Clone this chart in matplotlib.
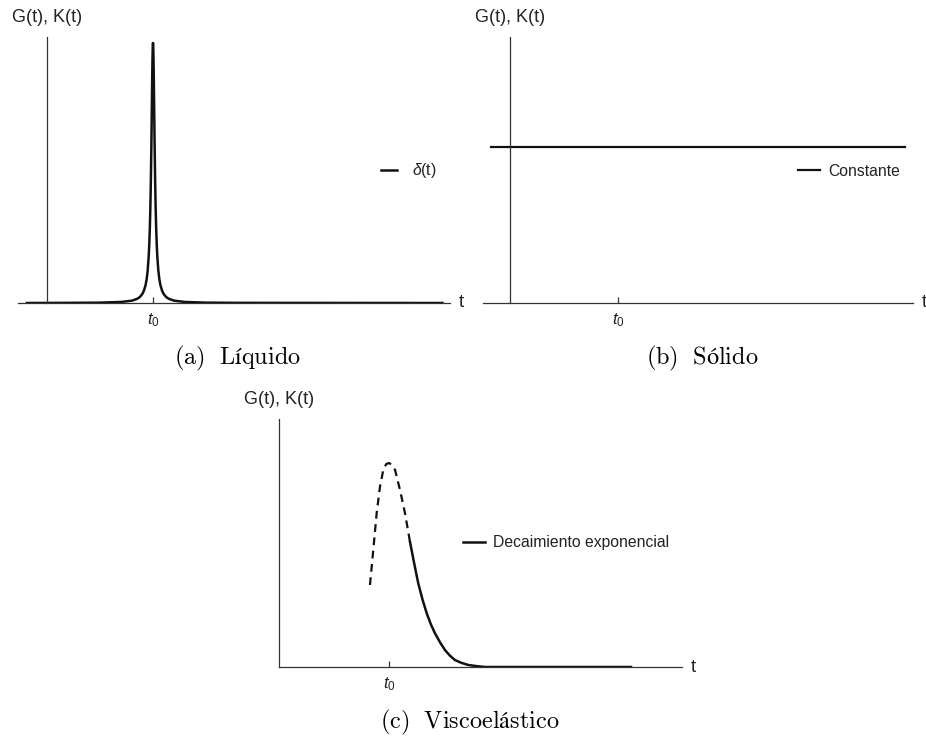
import matplotlib
matplotlib.use("Agg")
import matplotlib.pyplot as plt

plt.rcParams['font.family'] = ['Liberation Sans', 'DejaVu Sans']
plt.rcParams['mathtext.fontset'] = 'custom'
plt.rcParams['mathtext.rm'] = 'Liberation Sans'
plt.rcParams['mathtext.it'] = 'Liberation Sans:italic'

W, H = 926, 739
AXIS_C = '#333333'
LINE_C = '#111111'
TEXT_C = '#222222'

# (a) liquid: narrow peak at t0
t0 = 1.0
liq_t = [-0.19, 0.2, 0.5, 0.7, 0.8, 0.85, 0.875, 0.9, 0.915, 0.93, 0.94, 0.95, 0.96, 0.965,
         0.97, 0.975, 0.98, 0.985, 0.99, 0.9925, 0.995, 0.9975, 1.0,
         1.0025, 1.005, 1.0075, 1.01, 1.015, 1.02, 1.025, 1.03, 1.035, 1.04, 1.05, 1.06,
         1.07, 1.085, 1.1, 1.125, 1.15, 1.2, 1.3, 1.5, 1.8, 3.73]
liq_g = [0.0, 0.0006, 0.0014, 0.004, 0.0089, 0.016, 0.0226, 0.035, 0.048, 0.069, 0.091, 0.126,
         0.184, 0.228, 0.286, 0.366, 0.474, 0.616, 0.783, 0.865, 0.935, 0.983, 1.0,
         0.983, 0.935, 0.865, 0.783, 0.616, 0.474, 0.366, 0.286, 0.228, 0.184, 0.126, 0.091,
         0.069, 0.048, 0.035, 0.0226, 0.016, 0.0089, 0.004, 0.0014, 0.0006, 0.0]

# (b) solid: constant modulus
sol_t = [-0.176, 3.66]
sol_g = [0.6, 0.6]

# (c) viscoelastic: rise (dashed) then exponential decay (solid)
vis_rise_t = [0.827, 0.857, 0.888, 0.918, 0.948, 0.975, 1.0, 1.028, 1.055, 1.1, 1.145, 1.191]
vis_rise_g = [0.402, 0.574, 0.755, 0.884, 0.966, 0.995, 1.0, 0.99, 0.966, 0.868, 0.755, 0.613]
vis_dec_t = [1.191, 1.23, 1.266, 1.305, 1.343, 1.38, 1.418, 1.465, 1.509, 1.555, 1.6, 1.66,
             1.72, 1.8, 1.873, 3.2]
vis_dec_g = [0.613, 0.505, 0.41, 0.33, 0.263, 0.21, 0.165, 0.12, 0.083, 0.055, 0.034, 0.02,
             0.01, 0.004, 0.0, 0.0]

fig = plt.figure(figsize=(W / 100, H / 100), dpi=100)


def fx(x):
    return x / W


def fy(y):
    return 1 - y / H


def make_axes(left, right, top, bottom, xlim, ylim):
    ax = fig.add_axes([fx(left), fy(bottom), fx(right - left), (bottom - top) / H])
    ax.set_xlim(*xlim)
    ax.set_ylim(*ylim)
    ax.patch.set_visible(False)
    for s in ('top', 'right'):
        ax.spines[s].set_visible(False)
    for s in ('left', 'bottom'):
        ax.spines[s].set_color(AXIS_C)
        ax.spines[s].set_linewidth(0.9)
    ax.spines['left'].set_position(('data', 0))
    ax.set_yticks([])
    ax.set_xticks([t0])
    ax.set_xticklabels([])
    ax.tick_params(axis='x', direction='in', length=4, width=0.9, color=AXIS_C)
    ax.annotate('$t_0$', xy=(t0, ylim[0]), xytext=(0, -12.5), textcoords='offset points',
                ha='center', va='center', fontsize=12, color=TEXT_C)
    return ax


def decorate(yaxis_px, top, right, bottom, caption, cap_x, cap_y):
    fig.text(fx(yaxis_px), fy(top - 20), 'G(t), K(t)', ha='center', va='center',
             fontsize=13, color=TEXT_C)
    fig.text(fx(right + 11), fy(bottom), 't', ha='center', va='center',
             fontsize=13.5, color=TEXT_C)
    fig.text(fx(cap_x), fy(cap_y), caption, ha='center', va='center',
             fontsize=17.5, color='black', math_fontfamily='cm')


def legend(ax, x, y, hl, pad):
    ax.legend(loc='center left', bbox_to_anchor=(fx(x), fy(y)), bbox_transform=fig.transFigure,
              frameon=False, borderpad=0, borderaxespad=0, handlelength=hl,
              handletextpad=pad, fontsize=11.3, labelcolor=TEXT_C)


# (a)
ax1 = make_axes(18, 450, 37, 303, (-29 / 106, 403 / 106), (0, 1.023))
ax1.plot(liq_t, liq_g, color=LINE_C, lw=1.8, label=r'$\delta$(t)')
legend(ax1, 381, 171, 1.0, 1.0)
decorate(47, 37, 450, 303, r'$\mathrm{(a)\ \ Líquido}$', 238, 358)

# (b)
ax2 = make_axes(483, 913, 37, 303, (-27 / 108, 403 / 108), (0, 1.023))
ax2.plot(sol_t, sol_g, color=LINE_C, lw=1.6, label='Constante')
legend(ax2, 798, 171, 1.4, 0.55)
decorate(510, 37, 913, 303, r'$\mathrm{(b)\ \ Sólido}$', 702, 358)

# (c)
ax3 = make_axes(279, 682, 419, 667, (0, 403 / 110), (0, 248 / 204))
ax3.plot(vis_rise_t, vis_rise_g, color=LINE_C, lw=1.6, ls=(0, (3.5, 2.5)))
ax3.plot(vis_dec_t, vis_dec_g, color=LINE_C, lw=1.8, label='Decaimiento exponencial')
legend(ax3, 463, 543, 1.4, 0.5)
decorate(279, 419, 682, 667, r'$\mathrm{(c)\ \ Viscoelástico}$', 470, 722)

fig.savefig('out.png', dpi=100)
